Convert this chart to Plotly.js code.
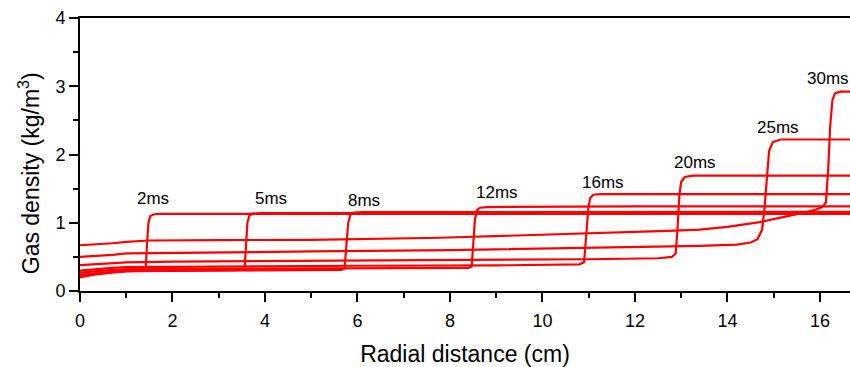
<!DOCTYPE html>
<html>
<head>
<meta charset="utf-8">
<script src="https://cdn.plot.ly/plotly-3.0.1.min.js"></script>
<style>html,body{margin:0;padding:0;background:#fff;}#chart{width:850px;height:367px;}</style>
</head>
<body>
<div id="chart"></div>
<script>
// Radial distance (cm) and gas density (kg/m^3) for each time
const labels = ["2ms", "5ms", "8ms", "12ms", "16ms", "20ms", "25ms", "30ms"];

const r2   = [0, 0.3, 0.7, 1.0, 1.38, 1.42, 1.45, 1.48, 1.52, 1.6, 1.75, 4, 8, 12, 16.7];
const rho2 = [0.2, 0.24, 0.27, 0.29, 0.30, 0.33, 0.7, 1.0, 1.1, 1.125, 1.13, 1.13, 1.13, 1.13, 1.13];

const r5   = [0, 0.3, 0.7, 1, 2, 3, 3.5, 3.56, 3.59, 3.62, 3.66, 3.74, 3.9, 8, 12, 16.7];
const rho5 = [0.24, 0.26, 0.28, 0.29, 0.30, 0.305, 0.31, 0.33, 0.7, 1.0, 1.1, 1.135, 1.14, 1.14, 1.14, 1.14];

const r8   = [0, 0.3, 0.7, 1, 3, 5, 5.65, 5.72, 5.76, 5.8, 5.85, 5.93, 6.1, 10, 16.7];
const rho8 = [0.22, 0.25, 0.28, 0.29, 0.30, 0.305, 0.31, 0.33, 0.7, 1.0, 1.12, 1.15, 1.155, 1.16, 1.16];

const r12   = [0, 0.3, 0.7, 1, 3, 6, 8, 8.4, 8.47, 8.5, 8.54, 8.58, 8.65, 8.8, 12, 16.7];
const rho12 = [0.27, 0.29, 0.31, 0.32, 0.325, 0.33, 0.335, 0.34, 0.36, 0.7, 1.05, 1.18, 1.22, 1.23, 1.24, 1.24];

const r16   = [0, 0.3, 0.7, 1, 3, 6, 9, 10.5, 10.8, 10.9, 10.95, 10.99, 11.03, 11.1, 11.25, 16.7];
const rho16 = [0.3, 0.32, 0.34, 0.35, 0.36, 0.37, 0.375, 0.385, 0.39, 0.42, 0.8, 1.2, 1.36, 1.41, 1.42, 1.42];

const r20   = [0, 0.3, 0.7, 1, 2, 5, 8, 11, 12.5, 12.8, 12.88, 12.92, 12.96, 13.0, 13.08, 13.25, 16.7];
const rho20 = [0.38, 0.39, 0.41, 0.42, 0.43, 0.44, 0.45, 0.465, 0.48, 0.5, 0.55, 0.9, 1.4, 1.6, 1.67, 1.69, 1.69];

const r25   = [0, 0.3, 0.7, 1, 2, 5, 8, 11, 13.4, 14.2, 14.5, 14.65, 14.75, 14.8, 14.85, 14.9, 14.98, 15.15, 16.7];
const rho25 = [0.50, 0.51, 0.53, 0.55, 0.56, 0.58, 0.60, 0.63, 0.66, 0.68, 0.71, 0.76, 0.9, 1.2, 1.7, 2.05, 2.18, 2.22, 2.22];

const r30   = [0, 0.3, 0.7, 1, 1.5, 3, 5, 7.8, 10, 11, 12.7, 13.4, 14, 14.7, 15.2, 15.6, 15.9, 16.05, 16.13, 16.18, 16.22, 16.27, 16.33, 16.45, 16.7];
const rho30 = [0.67, 0.68, 0.70, 0.72, 0.74, 0.745, 0.75, 0.78, 0.82, 0.84, 0.88, 0.90, 0.94, 1.01, 1.08, 1.14, 1.19, 1.23, 1.3, 1.8, 2.4, 2.8, 2.9, 2.92, 2.92];

// label anchor positions (data coords)
const labelX = [1.58, 4.14, 6.15, 9.01, 11.31, 13.3, 15.1, 16.18];
const labelY = [1.35, 1.35, 1.32, 1.44, 1.59, 1.88, 2.40, 3.11];

const series = [[r2, rho2], [r5, rho5], [r8, rho8], [r12, rho12], [r16, rho16], [r20, rho20], [r25, rho25], [r30, rho30]];

const FONT = "Liberation Sans, Arial, sans-serif";

const traces = series.map((s, i) => ({
  x: s[0], y: s[1], type: "scatter", mode: "lines", name: labels[i],
  line: {color: "#ff0000", width: 2.2}, hoverinfo: "skip"
}));

const annotations = labels.map((t, i) => ({
  x: labelX[i], y: labelY[i], xref: "x", yref: "y", text: t, showarrow: false,
  font: {family: FONT, size: 17, color: "#000"}, xanchor: "center", yanchor: "middle"
}));

annotations.push({
  xref: "paper", yref: "paper", x: -0.066, y: 0.432, xanchor: "center", yanchor: "middle",
  text: "Gas density (kg/m<sup>3</sup>)", textangle: -90, showarrow: false,
  font: {family: FONT, size: 23, color: "#000"}
});

const layout = {
  width: 850, height: 367,
  margin: {l: 80, r: 0, t: 18, b: 76},
  paper_bgcolor: "#fff", plot_bgcolor: "#fff",
  showlegend: false,
  font: {family: FONT, color: "#000"},
  xaxis: {
    range: [0, 16.65], tick0: 0, dtick: 2, ticks: "outside", ticklen: 9, tickwidth: 2,
    tickcolor: "#000", showline: true, linewidth: 2, linecolor: "#000", mirror: true,
    showgrid: false, zeroline: false, tickfont: {family: FONT, size: 18, color: "#000"},
    ticklabelstandoff: 3,
    minor: {dtick: 1, ticks: "outside", ticklen: 5, tickwidth: 2, tickcolor: "#000", showgrid: false},
    title: {text: "Radial distance (cm)", font: {family: FONT, size: 23, color: "#000"}, standoff: 17}
  },
  yaxis: {
    range: [0, 4], tick0: 0, dtick: 1, ticks: "outside", ticklen: 9, tickwidth: 2,
    tickcolor: "#000", showline: true, linewidth: 2, linecolor: "#000", mirror: false,
    showgrid: false, zeroline: false, tickfont: {family: FONT, size: 18, color: "#000"},
    minor: {dtick: 0.5, ticks: "outside", ticklen: 5, tickwidth: 2, tickcolor: "#000", showgrid: false}
  },
  annotations: annotations
};

Plotly.newPlot("chart", traces, layout, {displayModeBar: false, staticPlot: true});
</script>
</body>
</html>
